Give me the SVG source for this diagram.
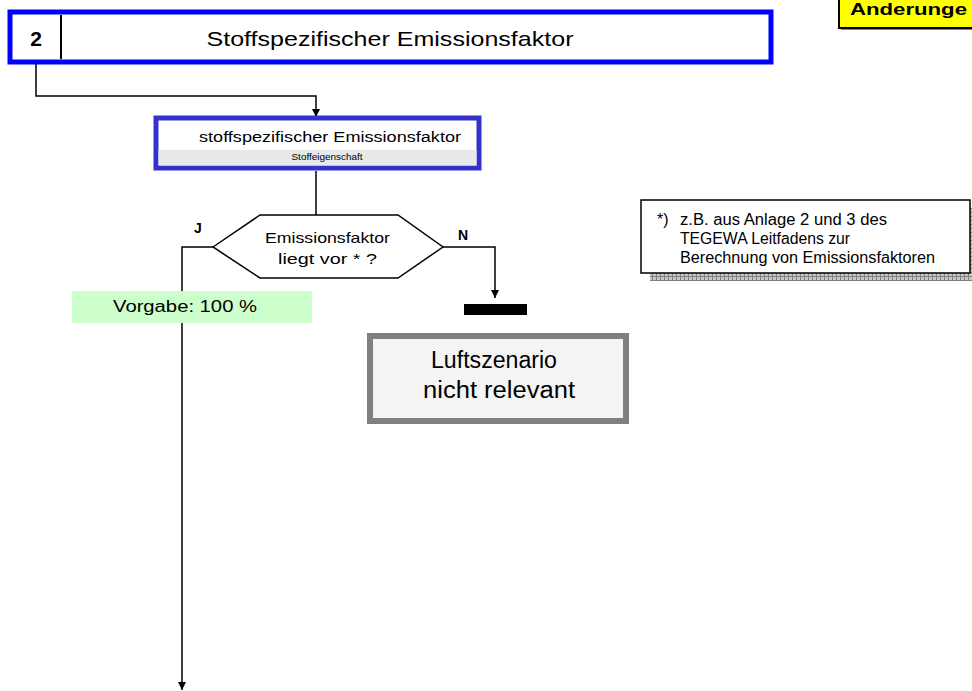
<svg xmlns="http://www.w3.org/2000/svg" width="972" height="691" viewBox="0 0 972 691">
  <style>
    text { font-family: "Liberation Sans", Arial, sans-serif; fill: #000; }
    .mid { text-anchor: middle; }
    .bold { font-weight: bold; }
    .wire { fill: none; stroke: #000; stroke-width: 1.5; }
  </style>
  <defs>
    <marker id="arrow" viewBox="0 0 10 10" refX="10" refY="5" markerWidth="10" markerHeight="8" markerUnits="userSpaceOnUse" orient="auto">
      <path d="M0,0 L10,5 L0,10 Z" fill="#000"/>
    </marker>
    <pattern id="hatch" width="4" height="4" patternUnits="userSpaceOnUse">
      <rect width="4" height="4" fill="#c8c8c8"/>
      <path d="M0,0.5 H4 M0.5,0 V4" stroke="#808080" stroke-width="1"/>
    </pattern>
  </defs>

  <rect width="972" height="691" fill="#fff"/>

  <!-- connectors -->
  <g id="connectors">
    <path class="wire" d="M36,64 V96 H316 V117" marker-end="url(#arrow)"/>
    <path class="wire" d="M316,171 V215"/>
    <path class="wire" d="M213,247 H182 V690" marker-end="url(#arrow)"/>
    <path class="wire" d="M443,247 H495 V298" marker-end="url(#arrow)"/>
  </g>

  <!-- header bar -->
  <g id="header">
    <rect x="10" y="12" width="761" height="50" fill="#fff" stroke="#0000ff" stroke-width="5"/>
    <line x1="61" y1="15" x2="61" y2="59" stroke="#000" stroke-width="2"/>
    <text x="36" y="46" class="mid bold" font-size="21">2</text>
    <text x="390" y="46" class="mid" font-size="21" textLength="367" lengthAdjust="spacingAndGlyphs">Stoffspezifischer Emissionsfaktor</text>
  </g>

  <!-- change marker -->
  <g id="changes">
    <rect x="841" y="-4" width="140" height="34" fill="#808080"/>
    <rect x="839" y="-6" width="140" height="34" fill="#ffff00" stroke="#000" stroke-width="2"/>
    <text x="850" y="15" class="bold" font-size="16" textLength="117" lengthAdjust="spacingAndGlyphs">Anderunge</text>
  </g>

  <!-- property box -->
  <g id="property">
    <rect x="156" y="118" width="323" height="50" fill="#fff" stroke="#3333cc" stroke-width="5"/>
    <rect x="158.5" y="150" width="318" height="15.5" fill="#e8e8e8"/>
    <text x="330" y="142" class="mid" font-size="15.5" textLength="262" lengthAdjust="spacingAndGlyphs">stoffspezifischer Emissionsfaktor</text>
    <text x="327" y="160" class="mid" font-size="9" fill="#333" textLength="71" lengthAdjust="spacingAndGlyphs">Stoffeigenschaft</text>
  </g>

  <!-- decision -->
  <g id="decision">
    <polygon points="213,247 260,215 398,215 443,247 398,278 260,278" fill="#fff" stroke="#000" stroke-width="1.5"/>
    <text x="327.5" y="243" class="mid" font-size="15" textLength="125" lengthAdjust="spacingAndGlyphs">Emissionsfaktor</text>
    <text x="327.5" y="264" class="mid" font-size="15" textLength="99" lengthAdjust="spacingAndGlyphs">liegt vor * ?</text>
    <text x="198" y="233" class="mid bold" font-size="14">J</text>
    <text x="463" y="240" class="mid bold" font-size="14">N</text>
  </g>

  <!-- default value -->
  <g id="default">
    <rect x="72" y="291" width="240" height="32" fill="#ccffcc"/>
    <text x="185" y="312" class="mid" font-size="16" textLength="144" lengthAdjust="spacingAndGlyphs">Vorgabe: 100 %</text>
  </g>

  <!-- terminator bar -->
  <g id="stop">
    <rect x="464" y="304" width="63" height="11" fill="#000"/>
  </g>

  <!-- result box -->
  <g id="result">
    <rect x="370" y="336" width="256" height="85" fill="#f4f4f4" stroke="#808080" stroke-width="6"/>
    <text x="494" y="368" class="mid" font-size="23" textLength="126" lengthAdjust="spacingAndGlyphs">Luftszenario</text>
    <text x="499" y="398" class="mid" font-size="23" textLength="152" lengthAdjust="spacingAndGlyphs">nicht relevant</text>
  </g>

  <!-- footnote -->
  <g id="note">
    <rect x="650" y="208" width="330" height="73" fill="url(#hatch)"/>
    <rect x="641" y="200" width="329" height="73" fill="#fff" stroke="#000" stroke-width="1.5"/>
    <text x="657" y="225" font-size="16">*)</text>
    <text x="680" y="225" font-size="16" textLength="207" lengthAdjust="spacingAndGlyphs">z.B. aus Anlage 2 und 3 des</text>
    <text x="680" y="244" font-size="16" textLength="170" lengthAdjust="spacingAndGlyphs">TEGEWA Leitfadens zur</text>
    <text x="680" y="263" font-size="16" textLength="255" lengthAdjust="spacingAndGlyphs">Berechnung von Emissionsfaktoren</text>
  </g>
</svg>
